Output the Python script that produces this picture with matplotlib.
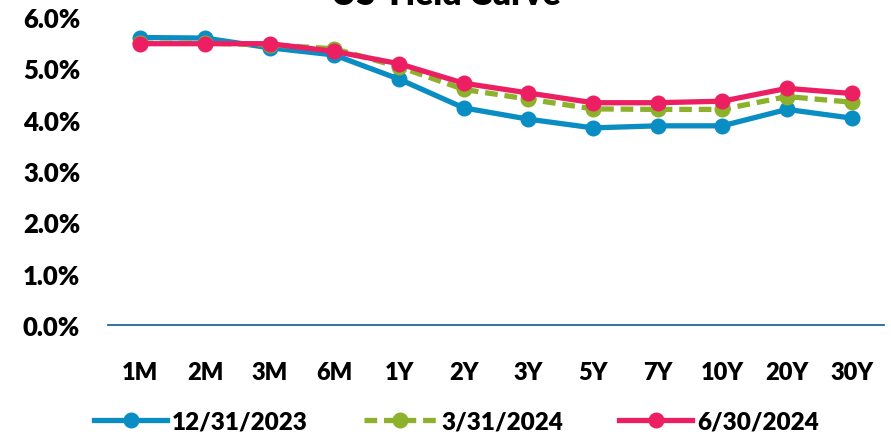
import matplotlib
matplotlib.use("Agg")
import matplotlib.pyplot as plt
from matplotlib.ticker import FuncFormatter

plt.rcParams['font.family'] = ['Lato', 'DejaVu Sans']

maturities = ["1M", "2M", "3M", "6M", "1Y", "2Y", "3Y", "5Y", "7Y", "10Y", "20Y", "30Y"]
dec_2023 = [5.60, 5.59, 5.40, 5.26, 4.79, 4.23, 4.01, 3.84, 3.88, 3.88, 4.20, 4.03]
mar_2024 = [5.49, 5.49, 5.46, 5.38, 5.03, 4.59, 4.40, 4.21, 4.20, 4.20, 4.45, 4.34]
jun_2024 = [5.48, 5.48, 5.48, 5.33, 5.09, 4.71, 4.52, 4.33, 4.33, 4.36, 4.61, 4.51]
series_labels = ["12/31/2023", "3/31/2024", "6/30/2024"]
title = "US Yield Curve"

colors = ["#0A8DC3", "#8DB12B", "#EC1F63"]

fig = plt.figure(figsize=(8.91, 4.39), dpi=100)
ax = fig.add_axes([108/891, 1 - 326/439, (884-108)/891, (326-18)/439])

x = list(range(len(maturities)))
ax.plot(x, dec_2023, color=colors[0], lw=3.8, marker='o', ms=10.5, label=series_labels[0], zorder=3)
ax.plot(x, mar_2024, color=colors[1], lw=3.8, ls=(0, (2.4, 1.3)), marker='o', ms=10.5, label=series_labels[1], zorder=4)
ax.plot(x, jun_2024, color=colors[2], lw=3.8, marker='o', ms=10.5, label=series_labels[2], zorder=5)

ax.set_xlim(-0.5, len(maturities) - 0.5)
ax.set_ylim(0, 6)
ax.set_yticks([0, 1, 2, 3, 4, 5, 6])
ax.yaxis.set_major_formatter(FuncFormatter(lambda v, p: f"{v:.1f}%"))
ax.set_xticks(x)
ax.set_xticklabels(maturities)

for s in ["top", "right", "left"]:
    ax.spines[s].set_visible(False)
ax.spines["bottom"].set_color("#1F6AA0")
ax.spines["bottom"].set_linewidth(1.3)
ax.tick_params(axis='both', length=0)
ax.tick_params(axis='y', pad=20, labelsize=18.5)
ax.tick_params(axis='x', pad=26, labelsize=17)
for lbl in ax.get_xticklabels() + ax.get_yticklabels():
    lbl.set_fontweight('heavy')

leg = fig.legend(loc='center', bbox_to_anchor=(0.5 + 11/891, 1 - 423/439), ncol=3, frameon=False,
                 handlelength=3.0, columnspacing=2.3, handletextpad=0.2,
                 prop={'weight': 'heavy', 'size': 17.5})

fig.text(0.5, 1 - 5/439, title, ha='center', va='baseline', fontsize=24.5, fontweight='heavy')

fig.savefig("out.png", dpi=100)
